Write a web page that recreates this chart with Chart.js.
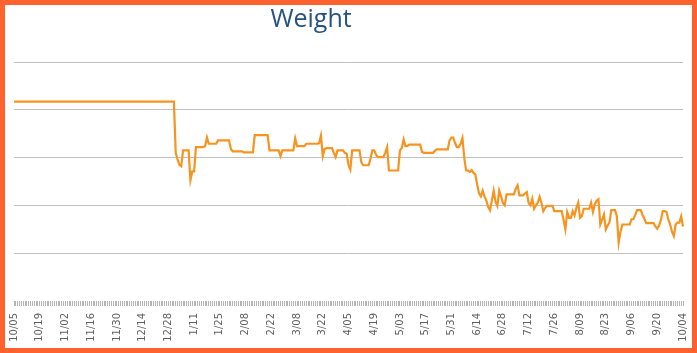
<!DOCTYPE html>
<html>
<head>
<meta charset="utf-8">
<script src="https://cdn.jsdelivr.net/npm/chart.js@4/dist/chart.umd.min.js"></script>
<style>
  html, body { margin: 0; padding: 0; background: #ffffff; }
  #frame { width: 697px; height: 353px; box-sizing: border-box; border: 5px solid #ff622e; background: #ffffff; }
  #wrap { position: relative; width: 687px; height: 343px; }
</style>
</head>
<body>
<div id="frame"><div id="wrap"><canvas id="c"></canvas></div></div>
<script>
// ---- data ----
const chartTitle = "Weight";
const startDate = "2014-10-05";
const tickLabels = ["10/05","10/19","11/02","11/16","11/30","12/14","12/28","1/11","1/25","2/08","2/22","3/08","3/22","4/05","4/19","5/03","5/17","5/31","6/14","6/28","7/12","7/26","8/09","8/23","9/06","9/20","10/04"];
const weight = [
  191.7,191.7,191.7,191.7,191.7,191.7,191.7,191.7,191.7,191.7,191.7,191.7,191.7,191.7,
  191.7,191.7,191.7,191.7,191.7,191.7,191.7,191.7,191.7,191.7,191.7,191.7,191.7,191.7,
  191.7,191.7,191.7,191.7,191.7,191.7,191.7,191.7,191.7,191.7,191.7,191.7,191.7,191.7,
  191.7,191.7,191.7,191.7,191.7,191.7,191.7,191.7,191.7,191.7,191.7,191.7,191.7,191.7,
  191.7,191.7,191.7,191.7,191.7,191.7,191.7,191.7,191.7,191.7,191.7,191.7,191.7,191.7,
  191.7,191.7,191.7,191.7,191.7,191.7,191.7,191.7,191.7,191.7,191.7,191.7,191.7,191.7,
  191.7,191.7,191.7,191.7,181.0,179.6,178.5,178.2,181.5,181.5,181.5,181.5,175.3,177.1,
  177.1,182.2,182.2,182.2,182.2,182.2,182.4,184.2,182.9,182.9,182.9,182.9,182.9,183.6,
  183.6,183.6,183.6,183.6,183.6,183.6,181.8,181.3,181.3,181.3,181.3,181.3,181.3,181.1,
  181.1,181.1,181.1,181.1,181.1,184.7,184.7,184.7,184.7,184.7,184.7,184.7,184.7,181.5,
  181.5,181.5,181.5,181.5,181.5,180.3,181.5,181.5,181.5,181.5,181.5,181.5,181.5,184.0,
  182.4,182.4,182.4,182.4,182.4,182.9,182.9,182.9,182.9,182.9,182.9,182.9,183.0,184.6,
  180.3,181.8,182.0,182.0,182.0,182.0,181.0,180.1,181.5,181.5,181.5,181.5,181.0,180.8,
  178.5,177.5,181.5,181.5,181.5,181.5,181.5,179.0,178.4,178.4,178.4,178.4,179.8,181.5,
  181.5,180.6,180.1,180.1,180.1,180.1,181.0,182.2,177.3,177.3,177.3,177.3,177.3,177.3,
  181.5,182.0,183.8,182.4,182.4,182.7,182.7,182.7,182.7,182.7,182.7,182.7,181.2,181.0,
  181.0,181.0,181.0,181.0,181.0,181.4,181.7,181.7,181.7,181.7,181.7,181.7,181.7,183.6,
  184.2,184.2,183.0,182.2,182.2,182.9,184.1,179.9,177.3,177.3,177.0,177.4,176.8,176.5,
  174.4,172.5,171.9,173.1,171.9,171.0,169.7,169.0,171.0,173.1,170.8,169.9,173.1,171.9,
  170.5,170.0,172.3,172.3,172.3,172.3,172.3,173.5,174.2,172.1,172.1,172.1,172.5,172.8,
  170.5,170.0,171.4,169.3,170.0,170.6,171.8,170.5,168.8,169.5,169.9,169.9,169.9,169.9,
  168.8,168.8,168.8,168.8,168.8,167.0,165.0,168.6,167.4,167.4,168.8,167.9,169.5,170.6,
  167.4,167.8,169.3,169.3,169.3,169.3,170.6,168.6,170.2,171.0,171.3,166.0,167.0,168.1,
  165.0,165.8,166.4,169.0,169.0,169.0,167.8,162.2,164.5,166.0,166.0,166.0,166.0,166.0,
  167.1,167.1,168.0,169.0,169.0,169.0,168.0,167.2,166.3,166.3,166.3,166.3,166.3,165.6,
  165.1,165.8,167.0,168.8,168.8,168.6,167.1,166.0,164.5,163.6,166.0,166.4,166.4,167.7,
  165.6
];
const yMin = 150, yMax = 200, yStep = 10;
const labelEvery = 14;

// daily category labels (M/DD), one per value
const categories = [];
{
  const d = new Date(startDate + "T12:00:00");
  for (let i = 0; i < weight.length; i++) {
    categories.push((d.getMonth() + 1) + "/" + String(d.getDate()).padStart(2, "0"));
    d.setDate(d.getDate() + 1);
  }
}

const titlePlugin = {
  id: "offTitle",
  afterDraw(chart) {
    const ctx = chart.ctx;
    ctx.save();
    ctx.font = "25px 'Open Sans', 'Noto Sans', sans-serif";
    ctx.fillStyle = "#255282";
    ctx.textAlign = "center";
    ctx.textBaseline = "alphabetic";
    ctx.fillText(chartTitle, 306, 22);
    ctx.restore();
  }
};

new Chart(document.getElementById("c"), {
  type: "line",
  data: {
    labels: categories,
    datasets: [{
      label: chartTitle,
      data: weight,
      borderColor: "#f7931e",
      backgroundColor: "#f7931e",
      borderWidth: 2.2,
      pointRadius: 0,
      pointHoverRadius: 0,
      tension: 0,
      fill: false
    }]
  },
  options: {
    responsive: true,
    maintainAspectRatio: false,
    animation: false,
    events: [],
    layout: { padding: { left: 9, right: 9, top: 57, bottom: 0 } },
    plugins: {
      legend: { display: false },
      title: { display: false },
      tooltip: { enabled: false }
    },
    scales: {
      x: {
        afterFit(s) { s.height = 47; s.paddingLeft = 0; s.paddingRight = 0; },
        border: { display: false },
        grid: {
          display: true,
          drawOnChartArea: false,
          drawTicks: true,
          tickLength: 5,
          color: "#b4b4b4",
          lineWidth: 1
        },
        ticks: {
          autoSkip: false,
          minRotation: 90,
          maxRotation: 90,
          padding: 7,
          color: "#5f5f5f",
          font: { family: "'DejaVu Sans', sans-serif", size: 10 },
          callback(val, index) {
            return index % labelEvery === 0 ? tickLabels[index / labelEvery] : "";
          }
        }
      },
      y: {
        min: yMin,
        max: yMax,
        afterFit(s) { s.width = 0; s.paddingTop = 0; s.paddingBottom = 0; },
        border: { display: false },
        grid: {
          drawTicks: false,
          color(ctx) { return ctx.tick && ctx.tick.value === yMin ? "rgba(0,0,0,0)" : "#c0c0c0"; },
          lineWidth: 1
        },
        ticks: { display: false, stepSize: yStep }
      }
    }
  },
  plugins: [titlePlugin]
});
</script>
</body>
</html>
